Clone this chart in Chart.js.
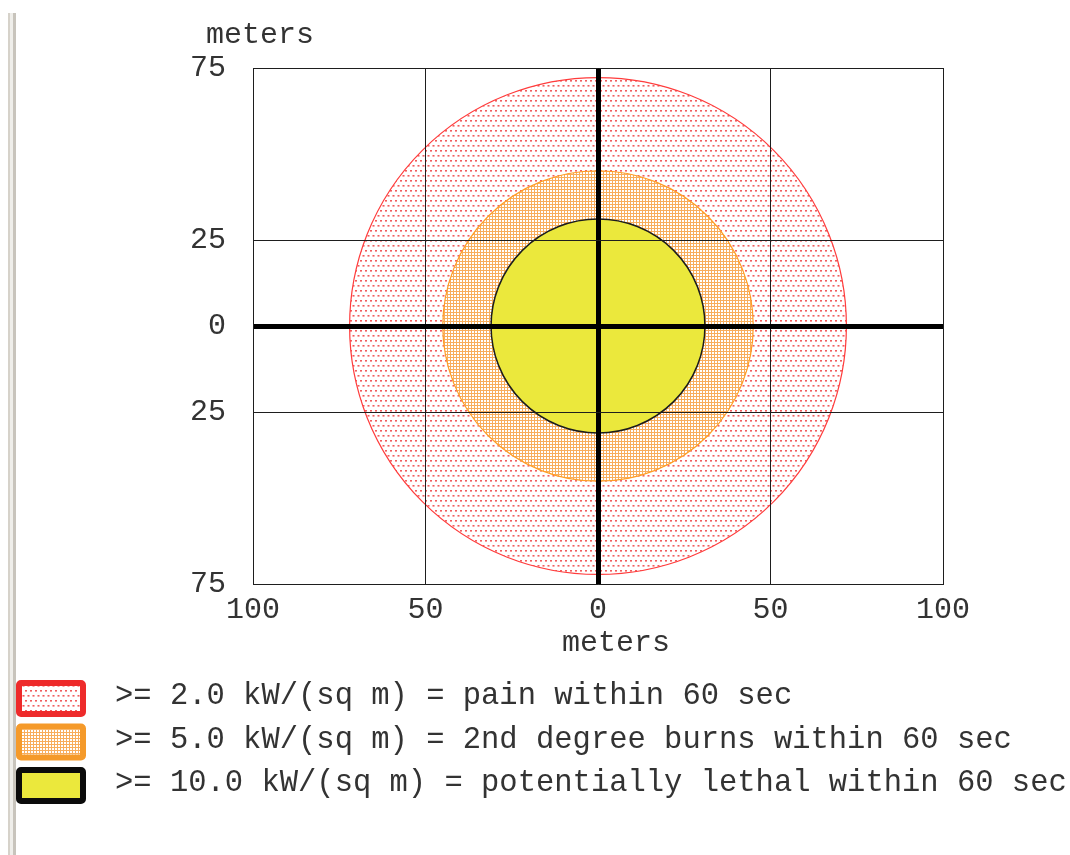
<!DOCTYPE html>
<html>
<head>
<meta charset="utf-8">
<script src="https://cdn.jsdelivr.net/npm/chart.js@4.4.1/dist/chart.umd.min.js"></script>
<style>
  html, body { margin: 0; padding: 0; background: #ffffff; }
  #wrap { position: relative; width: 1070px; height: 855px; overflow: hidden; }
  #frame {
    position: absolute; left: 8px; top: 13px; width: 3px; height: 842px;
    background: #efeeea; border-left: 2px solid #d6d2ca; border-right: 3px solid #c8c4bc;
  }
  #c { position: absolute; left: 0; top: 0; }
</style>
</head>
<body>
<div id="wrap">
  <div id="frame"></div>
  <canvas id="c" width="1070" height="855"></canvas>
</div>
<script>
// Thermal radiation threat zones: label and radius (meters) of each zone
const zoneLabels = [
  '>= 2.0 kW/(sq m) = pain within 60 sec',
  '>= 5.0 kW/(sq m) = 2nd degree burns within 60 sec',
  '>= 10.0 kW/(sq m) = potentially lethal within 60 sec'
];
const zoneRadii = [72, 45, 31];

// Axis ticks (labels show distance from the source, so no signs)
const xTicks = [-100, -50, 0, 50, 100];
const xTickLabels = ['100', '50', '0', '50', '100'];
const yTicks = [-75, -25, 0, 25, 75];
const yTickLabels = ['75', '25', '0', '25', '75'];
const axisTitle = 'meters';

const FONT = '"Liberation Mono", "DejaVu Sans Mono", monospace';
const TEXT = '#333333';

// Fill patterns for the zones
const ctxMain = document.getElementById('c').getContext('2d');
const redDots = (function () {
  const c = document.createElement('canvas');
  c.width = 5; c.height = 10;
  const g = c.getContext('2d');
  g.fillStyle = '#ffffff'; g.fillRect(0, 0, 5, 10);
  g.fillStyle = 'rgba(238,52,52,0.8)';
  g.fillRect(0, 0, 2, 1.6);
  g.fillRect(2.5, 5, 2, 1.6);
  return ctxMain.createPattern(c, 'repeat');
})();
const orangeMesh = (function () {
  const c = document.createElement('canvas');
  c.width = 3; c.height = 3;
  const g = c.getContext('2d');
  g.fillStyle = '#f8ad5c'; g.fillRect(0, 0, 3, 3);
  g.fillStyle = '#ffffff'; g.fillRect(1, 1, 2, 2);
  return ctxMain.createPattern(c, 'repeat');
})();

const zoneFill = [redDots, orangeMesh, '#ebe83c'];
const zoneLine = ['#ff3c3c', '#ff9d24', '#1c1c1c'];
const swatchBorder = ['#ee2b2b', '#f59a2a', '#0b0b0b'];

// Radius in pixels for a distance in meters
function meterPx(chart, m) {
  const x = chart.scales && chart.scales.x;
  if (!x || m === undefined) return 0;
  const v = Math.abs(x.getPixelForValue(m) - x.getPixelForValue(0));
  return isFinite(v) ? v : 0;
}

const titlesPlugin = {
  id: 'axisTitles',
  afterDraw(chart) {
    const { ctx, chartArea: a } = chart;
    ctx.save();
    ctx.font = '30px ' + FONT;
    ctx.fillStyle = TEXT;
    ctx.textBaseline = 'alphabetic';
    ctx.textAlign = 'left';
    ctx.fillText(axisTitle, a.left - 47, a.top - 25);
    ctx.textAlign = 'center';
    ctx.fillText(axisTitle, (a.left + a.right) / 2 + 18, a.bottom + 67);
    ctx.restore();
  }
};

const zoneLegend = {
  id: 'zoneLegend',
  afterDraw(chart) {
    const { ctx, chartArea: a } = chart;
    ctx.save();
    chart.data.datasets.forEach((ds, i) => {
      const top = a.bottom + 96 + i * 43.5;
      const left = 16, w = 70, h = 37, bw = 6;
      ctx.fillStyle = ds.backgroundColor;
      ctx.fillRect(left + bw, top + bw, w - 2 * bw, h - 2 * bw);
      ctx.lineWidth = bw;
      ctx.strokeStyle = swatchBorder[i];
      ctx.beginPath();
      ctx.roundRect(left + bw / 2, top + bw / 2, w - bw, h - bw, 2);
      ctx.stroke();
      ctx.font = '30.5px ' + FONT;
      ctx.fillStyle = TEXT;
      ctx.textAlign = 'left';
      ctx.textBaseline = 'alphabetic';
      ctx.fillText(ds.label, 115, top + 24);
    });
    ctx.restore();
  }
};

const gridWidth = (ctx) => (ctx.tick && ctx.tick.value === 0 ? 5 : 1);
const gridColor = (ctx) => (ctx.tick && ctx.tick.value === 0 ? '#000000' : '#1e1e1e');

new Chart(document.getElementById('c'), {
  type: 'bubble',
  data: {
    datasets: zoneLabels.map((label, i) => ({
      label,
      // each zone is a circle centred on the source; m is its radius in meters
      data: [{ x: 0, y: 0, m: zoneRadii[i] }],
      parsing: false,
      backgroundColor: zoneFill[i],
      borderColor: zoneLine[i],
      borderWidth: i === 2 ? 1.5 : 1.2,
      order: zoneLabels.length - i,
      radius: (c) => meterPx(c.chart, c.raw && c.raw.m),
      hoverRadius: 0
    }))
  },
  options: {
    responsive: false,
    animation: false,
    events: [],
    layout: { autoPadding: false, padding: { top: 68, right: 127, bottom: 231, left: 0 } },
    plugins: { legend: { display: false }, tooltip: { enabled: false } },
    scales: {
      x: {
        type: 'linear', min: -100, max: 100,
        afterBuildTicks: (s) => { s.ticks = xTicks.map((v) => ({ value: v })); },
        afterFit: (s) => { s.height = 40; },
        ticks: {
          callback: (v, i) => xTickLabels[i],
          font: { family: FONT, size: 30 }, color: TEXT,
          padding: 8, maxRotation: 0, autoSkip: false
        },
        grid: { color: gridColor, lineWidth: gridWidth, drawTicks: false, z: 1 },
        border: { display: true, color: '#1e1e1e', width: 1, z: 1 }
      },
      y: {
        type: 'linear', min: -75, max: 75,
        afterBuildTicks: (s) => { s.ticks = yTicks.map((v) => ({ value: v })); },
        afterFit: (s) => { s.width = 253; },
        ticks: {
          callback: (v, i) => yTickLabels[i],
          font: { family: FONT, size: 30 }, color: TEXT,
          padding: 27, autoSkip: false
        },
        grid: { color: gridColor, lineWidth: gridWidth, drawTicks: false, z: 1 },
        border: { display: true, color: '#1e1e1e', width: 1, z: 1 }
      }
    }
  },
  plugins: [titlesPlugin, zoneLegend]
});
</script>
</body>
</html>
